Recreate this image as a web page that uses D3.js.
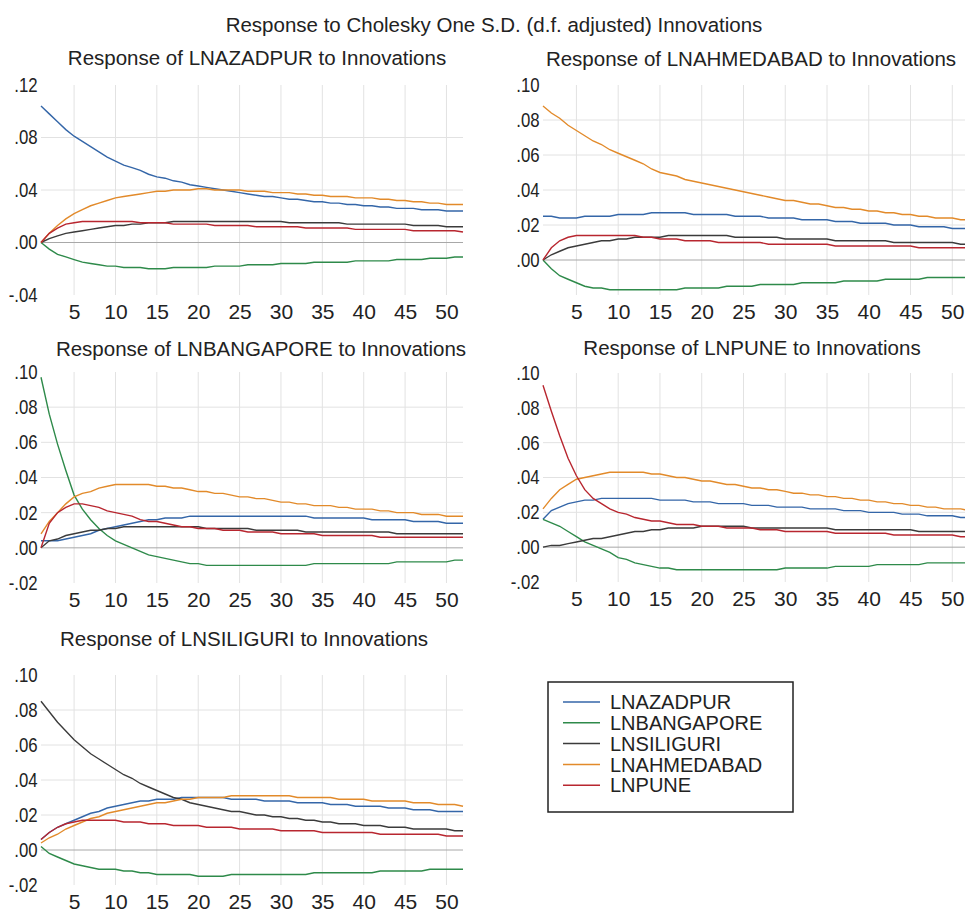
<!DOCTYPE html>
<html>
<head>
<meta charset="utf-8">
<script src="https://cdn.jsdelivr.net/npm/d3@7"></script>
<style>
  body { margin: 0; background: #fff; }
  svg { display: block; font-family: "Liberation Sans", Arial, sans-serif; }
  .grid line { stroke: #e2e2e2; stroke-width: 1; }
  .zero { stroke: #a8a8a8; stroke-width: 1; }
  .series { fill: none; stroke-width: 1.4; }
</style>
</head>
<body>
<div id="chart"></div>
<script>
// series (shocks) in legend order
const seriesNames = ["LNAZADPUR", "LNBANGAPORE", "LNSILIGURI", "LNAHMEDABAD", "LNPUNE"];
const seriesColors = ["#3466a8", "#2e8a4a", "#3b3b3b", "#e28a2a", "#b8262f"];

const periods = d3.range(1, 53);
const xTicks = [5, 10, 15, 20, 25, 30, 35, 40, 45, 50];

const panelTitles = [
  "Response of LNAZADPUR to Innovations",
  "Response of LNAHMEDABAD to Innovations",
  "Response of LNBANGAPORE to Innovations",
  "Response of LNPUNE to Innovations",
  "Response of LNSILIGURI to Innovations"
];

// y tick labels per panel
const yTicks1 = [-0.04, 0, 0.04, 0.08, 0.12];
const yTicks2 = [0, 0.02, 0.04, 0.06, 0.08, 0.10];
const yTicks3 = [-0.02, 0, 0.02, 0.04, 0.06, 0.08, 0.10];

// Response of LNAZADPUR
const azadpur_azadpur = [.104,.098,.092,.086,.081,.077,.073,.069,.065,.062,.059,.057,.055,.052,.050,.049,.047,.046,.044,.043,.042,.041,.040,.039,.038,.037,.036,.035,.035,.034,.033,.033,.032,.031,.031,.030,.030,.029,.029,.028,.028,.027,.027,.026,.026,.026,.025,.025,.025,.024,.024,.024];
const azadpur_bangapore = [0,-.005,-.009,-.011,-.013,-.015,-.016,-.017,-.018,-.018,-.019,-.019,-.019,-.020,-.020,-.020,-.019,-.019,-.019,-.019,-.019,-.018,-.018,-.018,-.018,-.017,-.017,-.017,-.017,-.016,-.016,-.016,-.016,-.015,-.015,-.015,-.015,-.015,-.014,-.014,-.014,-.014,-.014,-.013,-.013,-.013,-.013,-.012,-.012,-.012,-.011,-.011];
const azadpur_siliguri = [0,.003,.005,.007,.008,.009,.010,.011,.012,.013,.013,.014,.014,.015,.015,.015,.016,.016,.016,.016,.016,.016,.016,.016,.016,.016,.016,.016,.016,.016,.015,.015,.015,.015,.015,.015,.015,.014,.014,.014,.014,.014,.014,.014,.014,.013,.013,.013,.013,.012,.012,.012];
const azadpur_ahmedabad = [0,.007,.013,.018,.022,.025,.028,.030,.032,.034,.035,.036,.037,.038,.039,.039,.040,.040,.040,.041,.041,.040,.040,.040,.040,.039,.039,.039,.038,.038,.038,.037,.037,.036,.036,.035,.035,.035,.034,.034,.034,.033,.033,.032,.032,.031,.031,.030,.030,.029,.029,.029];
const azadpur_pune = [0,.007,.011,.014,.015,.016,.016,.016,.016,.016,.016,.016,.015,.015,.015,.015,.014,.014,.014,.014,.014,.013,.013,.013,.013,.013,.012,.012,.012,.012,.012,.012,.011,.011,.011,.011,.011,.011,.010,.010,.010,.010,.010,.010,.010,.009,.009,.009,.009,.009,.009,.008];

// Response of LNAHMEDABAD
const ahmedabad_azadpur = [.025,.025,.024,.024,.024,.025,.025,.025,.025,.026,.026,.026,.026,.027,.027,.027,.027,.027,.026,.026,.026,.026,.026,.025,.025,.025,.025,.024,.024,.024,.024,.023,.023,.023,.023,.022,.022,.022,.021,.021,.021,.021,.020,.020,.020,.019,.019,.019,.019,.018,.018,.018];
const ahmedabad_bangapore = [0,-.005,-.009,-.011,-.013,-.015,-.016,-.016,-.017,-.017,-.017,-.017,-.017,-.017,-.017,-.017,-.017,-.016,-.016,-.016,-.016,-.016,-.015,-.015,-.015,-.015,-.014,-.014,-.014,-.014,-.014,-.013,-.013,-.013,-.013,-.013,-.012,-.012,-.012,-.012,-.012,-.011,-.011,-.011,-.011,-.011,-.010,-.010,-.010,-.010,-.010,-.010];
const ahmedabad_siliguri = [0,.003,.005,.007,.008,.009,.010,.011,.011,.012,.012,.013,.013,.013,.013,.014,.014,.014,.014,.014,.014,.014,.014,.013,.013,.013,.013,.013,.013,.012,.012,.012,.012,.012,.012,.011,.011,.011,.011,.011,.011,.011,.010,.010,.010,.010,.010,.010,.010,.010,.009,.009];
const ahmedabad_ahmedabad = [.088,.084,.081,.077,.074,.071,.068,.066,.063,.061,.059,.057,.055,.052,.050,.049,.048,.046,.045,.044,.043,.042,.041,.040,.039,.038,.037,.036,.035,.034,.034,.033,.032,.032,.031,.030,.030,.029,.029,.028,.028,.027,.027,.026,.026,.025,.025,.024,.024,.024,.023,.023];
const ahmedabad_pune = [0,.007,.011,.013,.014,.014,.014,.014,.014,.014,.014,.014,.013,.013,.012,.012,.012,.011,.011,.011,.011,.010,.010,.010,.010,.010,.010,.009,.009,.009,.009,.009,.009,.009,.009,.008,.008,.008,.008,.008,.008,.008,.008,.008,.008,.007,.007,.007,.007,.007,.007,.007];

// Response of LNBANGAPORE
const bangapore_azadpur = [.004,.004,.004,.005,.006,.007,.008,.010,.011,.012,.013,.014,.015,.016,.016,.017,.017,.017,.018,.018,.018,.018,.018,.018,.018,.018,.018,.018,.018,.018,.018,.018,.018,.017,.017,.017,.017,.017,.017,.017,.016,.016,.016,.016,.016,.015,.015,.015,.015,.014,.014,.014];
const bangapore_bangapore = [.097,.076,.059,.044,.030,.022,.016,.011,.007,.004,.002,.000,-.002,-.004,-.005,-.006,-.007,-.008,-.009,-.009,-.010,-.010,-.010,-.010,-.010,-.010,-.010,-.010,-.010,-.010,-.010,-.010,-.010,-.009,-.009,-.009,-.009,-.009,-.009,-.009,-.009,-.009,-.009,-.008,-.008,-.008,-.008,-.008,-.008,-.008,-.007,-.007];
const bangapore_siliguri = [0,.004,.005,.007,.008,.009,.010,.010,.011,.011,.012,.012,.012,.012,.012,.012,.012,.012,.012,.012,.011,.011,.011,.011,.011,.011,.010,.010,.010,.010,.010,.010,.009,.009,.009,.009,.009,.009,.009,.009,.009,.009,.009,.008,.008,.008,.008,.008,.008,.008,.008,.008];
const bangapore_ahmedabad = [.008,.015,.020,.025,.029,.031,.032,.034,.035,.036,.036,.036,.036,.036,.035,.035,.034,.034,.033,.032,.032,.031,.031,.030,.029,.029,.028,.028,.027,.026,.026,.025,.025,.024,.024,.024,.023,.023,.022,.022,.022,.021,.021,.020,.020,.020,.019,.019,.019,.018,.018,.018];
const bangapore_pune = [0,.014,.020,.023,.025,.025,.024,.023,.021,.020,.019,.018,.016,.015,.015,.014,.013,.012,.012,.011,.011,.011,.010,.010,.010,.009,.009,.009,.009,.008,.008,.008,.008,.008,.007,.007,.007,.007,.007,.007,.007,.006,.006,.006,.006,.006,.006,.006,.006,.006,.006,.006];

// Response of LNPUNE
const pune_azadpur = [.016,.021,.023,.025,.026,.027,.027,.028,.028,.028,.028,.028,.028,.028,.027,.027,.027,.027,.026,.026,.026,.025,.025,.025,.025,.024,.024,.024,.023,.023,.023,.023,.022,.022,.022,.022,.021,.021,.021,.020,.020,.020,.020,.019,.019,.019,.018,.018,.018,.018,.017,.017];
const pune_bangapore = [.016,.014,.012,.009,.006,.003,.001,-.001,-.003,-.006,-.007,-.009,-.010,-.011,-.012,-.012,-.013,-.013,-.013,-.013,-.013,-.013,-.013,-.013,-.013,-.013,-.013,-.013,-.013,-.012,-.012,-.012,-.012,-.012,-.012,-.011,-.011,-.011,-.011,-.011,-.010,-.010,-.010,-.010,-.010,-.010,-.009,-.009,-.009,-.009,-.009,-.009];
const pune_siliguri = [0,.001,.001,.002,.003,.004,.005,.005,.006,.007,.008,.009,.009,.010,.010,.011,.011,.011,.011,.012,.012,.012,.012,.012,.012,.011,.011,.011,.011,.011,.011,.011,.011,.011,.011,.010,.010,.010,.010,.010,.010,.010,.010,.010,.010,.009,.009,.009,.009,.009,.009,.009];
const pune_ahmedabad = [.022,.028,.033,.036,.039,.040,.041,.042,.043,.043,.043,.043,.043,.042,.042,.041,.040,.040,.039,.038,.038,.037,.036,.036,.035,.034,.034,.033,.033,.032,.031,.031,.030,.030,.029,.029,.028,.028,.027,.027,.026,.026,.025,.025,.024,.024,.023,.023,.022,.022,.022,.021];
const pune_pune = [.093,.078,.064,.051,.041,.033,.028,.025,.022,.020,.019,.017,.016,.015,.015,.014,.013,.013,.013,.012,.012,.012,.011,.011,.011,.011,.010,.010,.010,.009,.009,.009,.009,.009,.009,.008,.008,.008,.008,.008,.008,.008,.007,.007,.007,.007,.007,.007,.007,.007,.006,.006];

// Response of LNSILIGURI
const siliguri_azadpur = [.006,.010,.013,.015,.017,.019,.021,.022,.024,.025,.026,.027,.028,.028,.029,.029,.029,.030,.030,.030,.030,.030,.030,.029,.029,.029,.029,.028,.028,.028,.028,.027,.027,.027,.027,.026,.026,.026,.025,.025,.025,.025,.024,.024,.024,.023,.023,.023,.022,.022,.022,.022];
const siliguri_bangapore = [.002,-.002,-.004,-.006,-.008,-.009,-.010,-.011,-.011,-.011,-.012,-.012,-.013,-.013,-.014,-.014,-.014,-.014,-.014,-.015,-.015,-.015,-.015,-.014,-.014,-.014,-.014,-.014,-.014,-.014,-.014,-.014,-.014,-.013,-.013,-.013,-.013,-.013,-.013,-.013,-.013,-.012,-.012,-.012,-.012,-.012,-.012,-.011,-.011,-.011,-.011,-.011];
const siliguri_siliguri = [.085,.079,.073,.068,.063,.059,.055,.052,.049,.046,.043,.041,.038,.036,.034,.032,.030,.029,.027,.026,.025,.024,.023,.022,.022,.021,.020,.020,.019,.019,.018,.018,.017,.017,.016,.016,.015,.015,.015,.014,.014,.014,.013,.013,.013,.012,.012,.012,.012,.012,.011,.011];
const siliguri_ahmedabad = [.004,.007,.009,.012,.014,.016,.018,.019,.021,.022,.023,.024,.025,.026,.027,.027,.028,.029,.029,.030,.030,.030,.030,.031,.031,.031,.031,.031,.031,.031,.031,.030,.030,.030,.030,.030,.029,.029,.029,.029,.028,.028,.028,.028,.028,.027,.027,.027,.026,.026,.026,.025];
const siliguri_pune = [.006,.010,.013,.015,.016,.017,.017,.017,.017,.017,.016,.016,.016,.015,.015,.015,.014,.014,.014,.014,.013,.013,.013,.013,.012,.012,.012,.012,.012,.011,.011,.011,.011,.011,.010,.010,.010,.010,.010,.010,.010,.009,.009,.009,.009,.009,.009,.009,.009,.008,.008,.008];

const panelSeries = [
  [azadpur_azadpur, azadpur_bangapore, azadpur_siliguri, azadpur_ahmedabad, azadpur_pune],
  [ahmedabad_azadpur, ahmedabad_bangapore, ahmedabad_siliguri, ahmedabad_ahmedabad, ahmedabad_pune],
  [bangapore_azadpur, bangapore_bangapore, bangapore_siliguri, bangapore_ahmedabad, bangapore_pune],
  [pune_azadpur, pune_bangapore, pune_siliguri, pune_ahmedabad, pune_pune],
  [siliguri_azadpur, siliguri_bangapore, siliguri_siliguri, siliguri_ahmedabad, siliguri_pune]
];

// panel placement (pixels)
const layout = [
  { x0: 41, x1: 463, y0: 85, y1: 295, dom: [-0.04, 0.12], ticks: yTicks1, tx: 257, ty: 65 },
  { x0: 543, x1: 969, y0: 85, y1: 295, dom: [-0.02, 0.10], ticks: yTicks2, tx: 751, ty: 66 },
  { x0: 41, x1: 463, y0: 372, y1: 583, dom: [-0.02, 0.10], ticks: yTicks3, tx: 261, ty: 356 },
  { x0: 543, x1: 969, y0: 373, y1: 582, dom: [-0.02, 0.10], ticks: yTicks3, tx: 752, ty: 355 },
  { x0: 41, x1: 463, y0: 675, y1: 885, dom: [-0.02, 0.10], ticks: yTicks3, tx: 244, ty: 646 }
];

const width = 965, height = 912;
// EViews style: ".04", "-.02"
const fmt = v => d3.format(".2f")(v).replace("\u2212", "-").replace("0.", ".");

const svg = d3.select("#chart").append("svg")
  .attr("width", width)
  .attr("height", height);

svg.append("rect").attr("width", width).attr("height", height).attr("fill", "#fff");

// main title
svg.append("text")
  .attr("x", 494)
  .attr("y", 32)
  .attr("text-anchor", "middle")
  .style("font-size", "20.5px")
  .style("fill", "#222")
  .text("Response to Cholesky One S.D. (d.f. adjusted) Innovations");

layout.forEach((p, i) => {
  const x = d3.scaleLinear().domain([1, 52]).range([p.x0, p.x1]);
  const y = d3.scaleLinear().domain(p.dom).range([p.y1, p.y0]);
  const g = svg.append("g");

  // grid
  const grid = g.append("g").attr("class", "grid");
  grid.selectAll(".vx")
    .data(xTicks)
    .enter().append("line")
    .attr("x1", d => x(d)).attr("x2", d => x(d))
    .attr("y1", p.y0).attr("y2", p.y1);
  grid.selectAll(".hy")
    .data(p.ticks.filter(t => t !== 0 && t !== p.dom[0] && t !== p.dom[1]))
    .enter().append("line")
    .attr("x1", p.x0).attr("x2", p.x1)
    .attr("y1", d => y(d)).attr("y2", d => y(d));

  g.append("line")
    .attr("class", "zero")
    .attr("x1", p.x0).attr("x2", p.x1)
    .attr("y1", y(0)).attr("y2", y(0));

  // y axis labels
  const yAxis = g.append("g")
    .attr("transform", "translate(" + p.x0 + ",0)")
    .call(d3.axisLeft(y).tickValues(p.ticks).tickSize(0).tickPadding(4).tickFormat(fmt));
  yAxis.select(".domain").remove();
  yAxis.selectAll("text")
    .attr("transform", "scale(0.84,1)")
    .style("font-size", "20px")
    .style("font-family", "Liberation Sans, Arial, sans-serif")
    .style("fill", "#222");

  // x axis labels
  const xAxis = g.append("g")
    .attr("transform", "translate(0," + p.y1 + ")")
    .call(d3.axisBottom(x).tickValues(xTicks).tickSize(0).tickPadding(9));
  xAxis.select(".domain").remove();
  xAxis.selectAll("text")
    .style("font-size", "21px")
    .style("font-family", "Liberation Sans, Arial, sans-serif")
    .style("fill", "#222");

  // panel title
  g.append("text")
    .attr("x", p.tx)
    .attr("y", p.ty)
    .attr("text-anchor", "middle")
    .style("font-size", "20.5px")
    .style("fill", "#222")
    .text(panelTitles[i]);

  // response lines
  const line = d3.line()
    .x((d, k) => x(periods[k]))
    .y(d => y(d));

  g.selectAll(".series")
    .data(panelSeries[i])
    .enter().append("path")
    .attr("class", "series")
    .attr("stroke", (d, k) => seriesColors[k])
    .attr("d", line);
});

// legend
const legend = svg.append("g").attr("transform", "translate(548,682)");
legend.append("rect")
  .attr("width", 245)
  .attr("height", 130)
  .attr("fill", "#fff")
  .attr("stroke", "#222")
  .attr("stroke-width", 1.5);

const rows = legend.selectAll(".row")
  .data(seriesNames)
  .enter().append("g")
  .attr("transform", (d, k) => "translate(0," + (20 + k * 20.8) + ")");

rows.append("line")
  .attr("x1", 15).attr("x2", 52)
  .attr("stroke", (d, k) => seriesColors[k])
  .attr("stroke-width", 1.5);

rows.append("text")
  .attr("x", 62)
  .attr("dy", "0.36em")
  .style("font-size", "20px")
  .style("fill", "#222")
  .text(d => d);
</script>
</body>
</html>
